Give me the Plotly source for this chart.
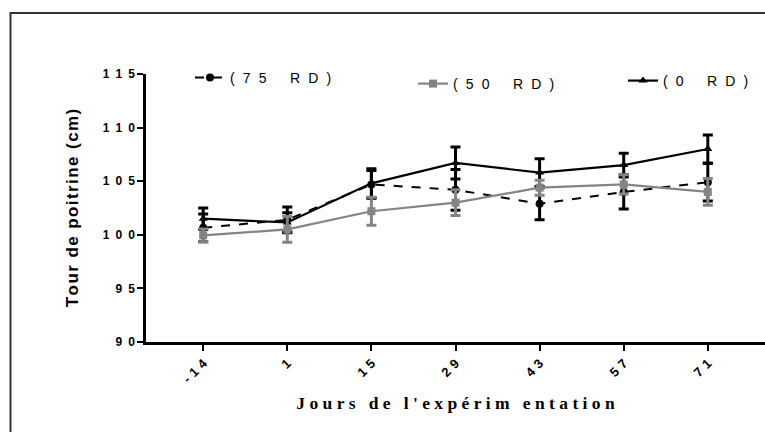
import plotly.graph_objects as go

days = ["-14", "1", "15", "29", "43", "57", "71"]

rd75 = [100.65, 101.4, 104.7, 104.2, 102.9, 104.0, 104.9]
rd75_err = [1.3, 1.2, 1.3, 1.9, 1.5, 1.6, 1.75]

rd50 = [99.95, 100.5, 102.2, 103.0, 104.4, 104.7, 104.0]
rd50_err = [0.6, 1.2, 1.3, 1.2, 0.7, 0.9, 1.25]

rd0 = [101.5, 101.15, 104.8, 106.7, 105.8, 106.5, 108.0]
rd0_err = [1.0, 0.9, 1.35, 1.5, 1.3, 1.1, 1.3]

y_ticks = [90, 95, 100, 105, 110, 115]

names = ["(75 RD)", "(50 RD)", "(0 RD)"]


def spaced(s, sep="\u2002", word="\u2002"):
    return sep.join(ch if ch != " " else word for ch in s)


GRAY = "#848484"
PLOT_L, PLOT_W, PLOT_T, PLOT_H = 146, 619, 74, 268


def px_x(p):
    return (p - PLOT_L) / PLOT_W


def px_y(p):
    return 1 - (p - PLOT_T) / PLOT_H


legend_font = dict(family="Liberation Sans, Arial, sans-serif", size=14, color="black")

fig = go.Figure()

fig.add_trace(go.Scatter(
    x=days, y=rd0, name=spaced(names[2], "\u2002\u200a"), legend="legend3",
    mode="lines+markers",
    line=dict(color="black", width=2.2),
    marker=dict(symbol="triangle-up", size=8, color="black"),
    error_y=dict(type="data", array=rd0_err, color="black", thickness=3, width=5),
))
fig.add_trace(go.Scatter(
    x=days, y=rd75, name=spaced(names[0], "\u2002\u200a"), legend="legend",
    mode="lines+markers",
    line=dict(color="black", width=2, dash="dash"),
    marker=dict(symbol="circle", size=8, color="black"),
    error_y=dict(type="data", array=rd75_err, color="black", thickness=3, width=5),
))
fig.add_trace(go.Scatter(
    x=days, y=rd50, name=spaced(names[1], "\u2002\u200a"), legend="legend2",
    mode="lines+markers",
    line=dict(color=GRAY, width=2.2),
    marker=dict(symbol="square", size=8, color=GRAY),
    error_y=dict(type="data", array=rd50_err, color=GRAY, thickness=3, width=5),
))

tick_font = dict(family="Liberation Sans, Arial, sans-serif", size=12, color="black", weight="bold")
xtick_font = dict(family="Liberation Sans, Arial, sans-serif", size=13, color="black", weight="bold")


def leg(xp, yp):
    return dict(x=px_x(xp), xanchor="left", y=px_y(yp), yanchor="middle",
                font=legend_font, bgcolor="rgba(0,0,0,0)", itemwidth=30,
                orientation="h")


fig.update_layout(
    width=765, height=432,
    margin=dict(l=PLOT_L, r=0, t=PLOT_T, b=90),
    paper_bgcolor="white", plot_bgcolor="white",
    showlegend=True,
    legend=leg(190, 78),
    legend2=leg(413, 84),
    legend3=leg(623, 81),
    xaxis=dict(
        type="category", range=[-0.68, 6.68],
        tickvals=days, ticktext=[spaced(d, "\u2004") for d in days],
        showline=True, linecolor="black", linewidth=2.5,
        ticks="outside", ticklen=6, tickwidth=2, tickcolor="black",
        tickangle=-45, tickfont=xtick_font, showgrid=False, zeroline=False,
        title=dict(
            text=spaced("Jours de l'expérim entation", "\u2005", "\u2005"),
            font=dict(family="Liberation Serif, Times New Roman, serif", size=17.5, color="black", weight="bold"),
            standoff=12,
        ),
    ),
    yaxis=dict(
        range=[90, 115], tickvals=y_ticks,
        ticktext=["\u2002".join(str(v)) for v in y_ticks],
        showline=True, linecolor="black", linewidth=2.5,
        ticks="outside", ticklen=6, tickwidth=2, tickcolor="black",
        tickfont=tick_font, showgrid=False, zeroline=False,
        title=dict(
            text=spaced("Tour de poitrine (cm)", "\u200a", " "),
            font=dict(family="Liberation Sans, Arial, sans-serif", size=17, color="black", weight="bold"),
            standoff=20,
        ),
    ),
    shapes=[dict(
        type="rect", xref="paper", yref="paper",
        x0=px_x(10.5), x1=1.2, y0=-0.6, y1=px_y(13),
        line=dict(color="#333333", width=2), fillcolor="rgba(0,0,0,0)", layer="below",
    )],
)

fig.write_html("out.html")
